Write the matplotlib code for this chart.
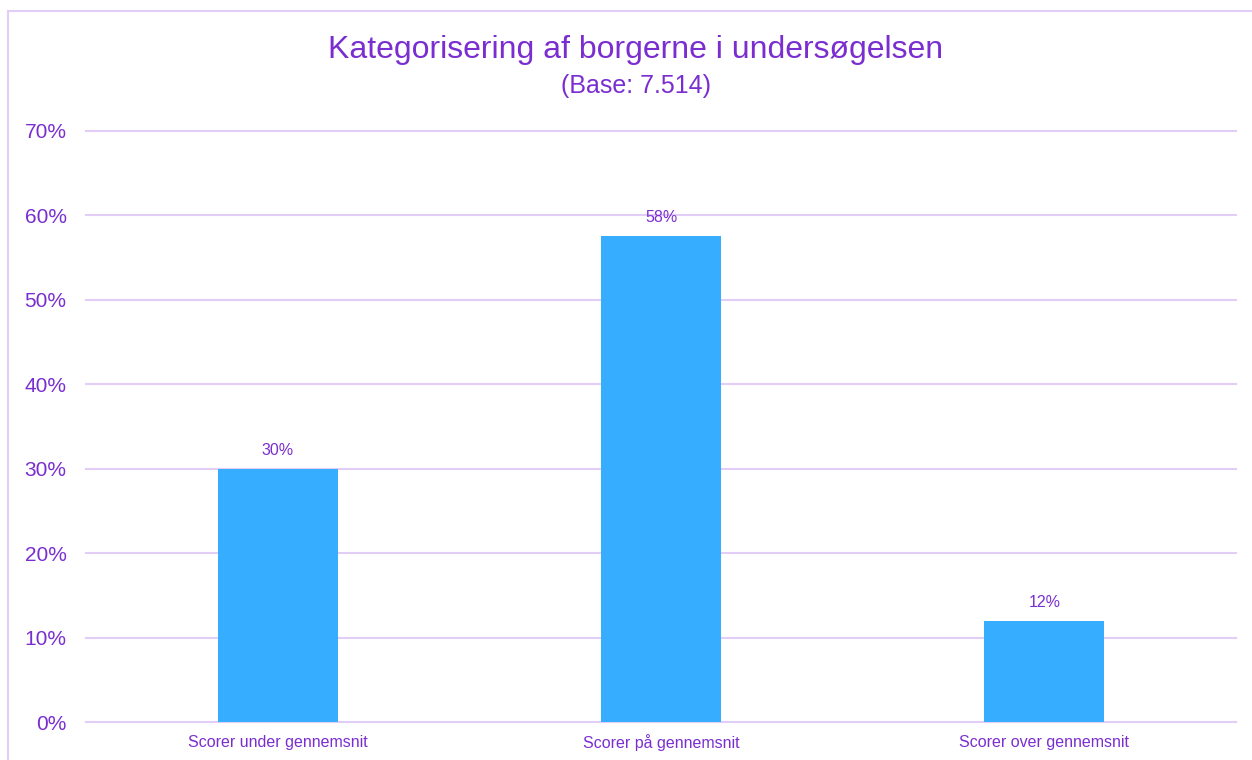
import matplotlib.pyplot as plt
from matplotlib.lines import Line2D
from matplotlib.ticker import PercentFormatter

plt.rcParams['font.family'] = ['Liberation Sans', 'DejaVu Sans']

# data
categories = ['Scorer under gennemsnit', 'Scorer på gennemsnit', 'Scorer over gennemsnit']
shares = [0.300, 0.576, 0.120]
yticks = [0, 0.1, 0.2, 0.3, 0.4, 0.5, 0.6, 0.7]

purple = '#7A2ED0'
grid_col = '#E2CDF7'
bar_col = '#36ADFF'

W, H = 1252, 760
fig = plt.figure(figsize=(W / 100, H / 100), dpi=100)
ax = fig.add_axes([86 / W, 1 - 722 / H, (1236 - 86) / W, (722 - 131) / H])

x = list(range(len(categories)))
ax.bar(x, shares, width=0.313, color=bar_col, zorder=3)
for xi, v in zip(x, shares):
    ax.annotate(f'{v:.0%}', (xi, v), xytext=(0, 8), textcoords='offset points',
                ha='center', va='bottom', fontsize=11.5, color=purple, zorder=4)

ax.set_xlim(-0.5, 2.5)
ax.set_ylim(0, 0.7)
ax.set_yticks(yticks)
ax.yaxis.set_major_formatter(PercentFormatter(1.0, decimals=0))
ax.set_xticks(x)
ax.set_xticklabels(categories, fontsize=11.5, color=purple)
ax.tick_params(axis='y', labelsize=15, labelcolor=purple, length=0, pad=14)
ax.tick_params(axis='x', length=0, pad=9)
ax.grid(axis='y', color=grid_col, linewidth=1.5, zorder=0)
for gl in ax.yaxis.get_gridlines():
    gl.set_clip_on(False)
for s in ax.spines.values():
    s.set_visible(False)

fig.text(636 / W, 1 - 50 / H, 'Kategorisering af borgerne i undersøgelsen',
         ha='center', va='center', fontsize=23, color=purple)
fig.text(636 / W, 1 - 86 / H, '(Base: 7.514)',
         ha='center', va='center', fontsize=18, color=purple)

# light frame: top and left edges of the chart box
top = 1 - 11 / H
left = 8 / W
fig.lines.append(Line2D([left, 1.0], [top, top], transform=fig.transFigure,
                        color=grid_col, linewidth=1.5))
fig.lines.append(Line2D([left, left], [0.0, top], transform=fig.transFigure,
                        color=grid_col, linewidth=1.5))

fig.savefig('out.png', dpi=100)
